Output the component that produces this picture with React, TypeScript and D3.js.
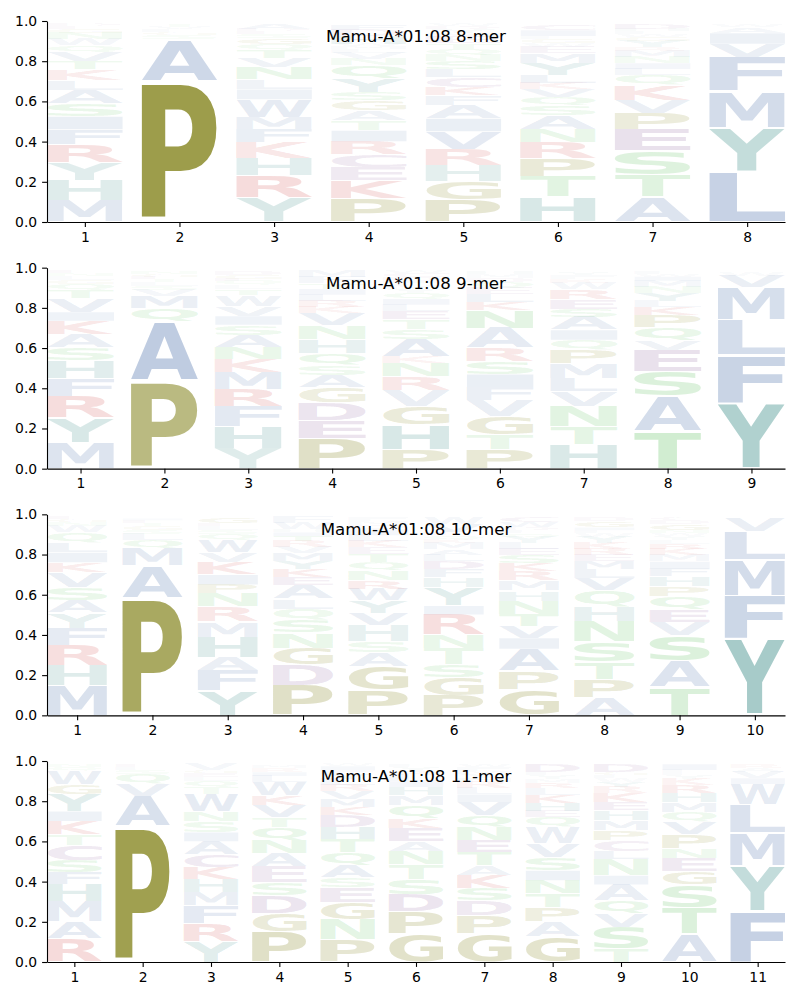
import { useEffect, useRef } from 'react';
import * as d3 from 'd3';

type Col = [string, number][];

// letter frequencies per position, stacked bottom -> top
const mer8: Col[] = [
  [['M', .105], ['H', .10], ['Y', .09], ['R', .09], ['F', .075], ['I', .065], ['S', .065], ['A', .065], ['L', .05], ['K', .055], ['T', .04], ['V', .045], ['Q', .035], ['W', .03], ['N', .03], ['G', .02], ['E', .015], ['D', .01]],
  [['P', .70], ['A', .21], ['S', .02], ['G', .015], ['L', .015], ['V', .01], ['T', .01]],
  [['Y', .12], ['R', .11], ['H', .085], ['K', .08], ['F', .065], ['M', .06], ['W', .09], ['I', .05], ['L', .05], ['N', .06], ['V', .045], ['T', .04], ['Q', .03], ['G', .03], ['S', .02], ['E', .015], ['D', .01], ['A', .025]],
  [['P', .115], ['K', .09], ['E', .065], ['C', .065], ['R', .065], ['I', .055], ['T', .05], ['A', .05], ['G', .05], ['S', .04], ['Y', .07], ['Q', .065], ['N', .03], ['V', .03], ['L', .02], ['M', .015], ['W', .01], ['H', .04], ['D', .03], ['F', .03]],
  [['P', .11], ['G', .09], ['H', .08], ['R', .08], ['V', .09], ['I', .065], ['A', .065], ['F', .05], ['K', .04], ['C', .05], ['L', .04], ['S', .04], ['N', .03], ['Q', .03], ['T', .03], ['E', .03], ['M', .02], ['Y', .02], ['D', .015], ['W', .01]],
  [['H', .125], ['T', .10], ['P', .09], ['R', .08], ['N', .065], ['A', .07], ['S', .05], ['Q', .04], ['V', .04], ['K', .03], ['L', .04], ['Y', .06], ['M', .05], ['E', .03], ['W', .02], ['G', .02], ['F', .015], ['I', .03], ['C', .03]],
  [['A', .125], ['T', .11], ['S', .12], ['E', .105], ['P', .08], ['V', .065], ['K', .075], ['Q', .05], ['L', .03], ['I', .03], ['N', .03], ['M', .03], ['R', .02], ['Y', .03], ['G', .02], ['W', .015], ['F', .015], ['H', .01], ['D', .025]],
  [['L', .25], ['Y', .22], ['M', .18], ['F', .17], ['V', .065], ['I', .055], ['A', .03], ['W', .015]],
];

const mer9: Col[] = [
  [['M', .13], ['Y', .125], ['R', .105], ['F', .09], ['H', .09], ['S', .065], ['A', .065], ['K', .065], ['I', .045], ['V', .07], ['T', .04], ['Q', .03], ['G', .02], ['L', .02], ['N', .015], ['E', .01]],
  [['P', .435], ['A', .30], ['Q', .065], ['M', .06], ['V', .03], ['S', .02], ['L', .02], ['T', .015], ['E', .01], ['G', .015], ['N', .015]],
  [['Y', .10], ['H', .11], ['F', .10], ['R', .085], ['M', .085], ['K', .065], ['N', .06], ['A', .06], ['S', .05], ['I', .045], ['V', .05], ['W', .055], ['T', .03], ['L', .02], ['Q', .02], ['E', .01], ['G', .02], ['D', .02]],
  [['P', .15], ['E', .09], ['D', .09], ['G', .075], ['A', .06], ['S', .05], ['Q', .06], ['H', .07], ['N', .07], ['V', .06], ['K', .03], ['R', .03], ['L', .03], ['I', .03], ['T', .03], ['F', .03], ['M', .03]],
  [['P', .095], ['H', .125], ['G', .09], ['V', .08], ['R', .07], ['N', .065], ['K', .03], ['A', .09], ['S', .05], ['T', .05], ['E', .04], ['L', .03], ['I', .03], ['Q', .03], ['Y', .02], ['M', .02], ['F', .02], ['D', .02], ['C', .02], ['W', .01]],
  [['P', .095], ['T', .075], ['G', .09], ['V', .08], ['F', .065], ['I', .065], ['S', .065], ['R', .065], ['A', .10], ['N', .09], ['K', .04], ['L', .04], ['E', .03], ['Q', .03], ['D', .02], ['M', .02], ['H', .015]],
  [['H', .12], ['T', .09], ['N', .10], ['V', .075], ['L', .065], ['M', .075], ['P', .065], ['Q', .05], ['I', .05], ['A', .065], ['S', .04], ['E', .05], ['R', .05], ['W', .03], ['K', .02], ['F', .02], ['Y', .015]],
  [['T', .185], ['A', .175], ['S', .125], ['E', .105], ['V', .05], ['Q', .065], ['P', .06], ['K', .04], ['L', .03], ['Y', .04], ['N', .03], ['M', .03], ['I', .02], ['W', .015], ['F', .015]],
  [['Y', .325], ['F', .24], ['L', .175], ['M', .16], ['V', .06], ['W', .02]],
];

const mer10: Col[] = [
  [['M', .15], ['H', .10], ['R', .10], ['F', .085], ['Y', .075], ['A', .06], ['S', .065], ['V', .075], ['K', .05], ['I', .05], ['L', .05], ['Q', .05], ['W', .03], ['N', .02], ['G', .015], ['E', .015]],
  [['P', .585], ['A', .16], ['M', .085], ['Q', .04], ['L', .03], ['S', .02], ['G', .02], ['T', .015], ['E', .015], ['I', .01]],
  [['Y', .125], ['F', .10], ['A', .065], ['H', .10], ['M', .075], ['R', .075], ['N', .065], ['P', .045], ['I', .05], ['K', .06], ['V', .05], ['W', .06], ['Q', .03], ['S', .02], ['L', .02], ['E', .015], ['G', .03]],
  [['P', .15], ['D', .10], ['G', .085], ['N', .075], ['S', .065], ['Q', .055], ['L', .05], ['A', .065], ['E', .04], ['K', .04], ['Y', .04], ['M', .04], ['V', .03], ['R', .03], ['T', .025], ['I', .02], ['H', .015], ['W', .03], ['F', .03]],
  [['P', .125], ['G', .12], ['A', .07], ['S', .055], ['H', .08], ['V', .06], ['Y', .06], ['W', .06], ['R', .04], ['N', .05], ['Q', .04], ['T', .04], ['E', .035], ['K', .03], ['L', .03], ['I', .03], ['D', .02], ['M', .02], ['F', .02]],
  [['P', .10], ['G', .09], ['S', .065], ['T', .08], ['N', .065], ['R', .10], ['I', .045], ['Y', .09], ['H', .05], ['F', .04], ['D', .04], ['L', .03], ['A', .03], ['M', .03], ['K', .02], ['Q', .02], ['E', .015], ['V', .04], ['W', .035]],
  [['G', .13], ['P', .09], ['A', .11], ['I', .055], ['V', .06], ['T', .06], ['N', .065], ['H', .05], ['M', .05], ['R', .045], ['K', .04], ['S', .04], ['E', .03], ['L', .03], ['Y', .03], ['Q', .02], ['F', .015], ['D', .015], ['W', .025], ['C', .025]],
  [['A', .09], ['P', .09], ['T', .085], ['S', .10], ['N', .10], ['H', .075], ['Q', .08], ['V', .06], ['L', .045], ['M', .04], ['E', .03], ['R', .03], ['K', .03], ['Y', .03], ['W', .02], ['F', .015], ['I', .015], ['G', .03], ['D', .02]],
  [['T', .14], ['A', .13], ['S', .13], ['V', .065], ['E', .06], ['Q', .065], ['P', .05], ['H', .05], ['F', .04], ['I', .035], ['M', .03], ['K', .03], ['R', .025], ['L', .02], ['Y', .02], ['W', .015], ['N', .015], ['G', .03], ['D', .02], ['C', .015]],
  [['Y', .38], ['F', .215], ['M', .18], ['L', .14], ['V', .065]],
];

const mer11: Col[] = [
  [['R', .115], ['A', .085], ['M', .10], ['H', .085], ['F', .06], ['S', .06], ['C', .075], ['T', .055], ['K', .065], ['I', .05], ['Y', .085], ['G', .05], ['W', .065], ['Q', .02], ['N', .015]],
  [['P', .675], ['A', .15], ['V', .06], ['Q', .05], ['S', .02], ['L', .015], ['E', .01]],
  [['Y', .10], ['R', .09], ['F', .09], ['M', .065], ['H', .065], ['K', .06], ['C', .065], ['A', .065], ['I', .045], ['S', .055], ['N', .05], ['W', .085], ['T', .035], ['Q', .03], ['L', .02], ['E', .02], ['G', .015], ['V', .03]],
  [['P', .15], ['G', .09], ['D', .09], ['S', .065], ['E', .08], ['A', .065], ['N', .065], ['Q', .065], ['T', .05], ['V', .06], ['K', .05], ['W', .065], ['L', .03], ['I', .02], ['R', .02], ['M', .015]],
  [['P', .11], ['N', .10], ['G', .085], ['E', .075], ['S', .05], ['A', .06], ['Q', .065], ['T', .065], ['H', .06], ['D', .06], ['K', .04], ['M', .04], ['V', .04], ['R', .03], ['L', .03], ['Y', .025], ['F', .02], ['I', .02], ['W', .01]],
  [['G', .14], ['P', .11], ['D', .085], ['S', .075], ['T', .075], ['N', .065], ['A', .05], ['E', .065], ['K', .05], ['Q', .065], ['M', .05], ['H', .04], ['I', .03], ['L', .03], ['R', .02], ['Y', .02], ['F', .015]],
  [['G', .14], ['P', .09], ['D', .075], ['S', .06], ['K', .065], ['A', .05], ['T', .065], ['E', .06], ['N', .065], ['Q', .06], ['V', .065], ['I', .04], ['L', .03], ['R', .03], ['H', .02], ['Y', .02], ['M', .015], ['F', .02], ['W', .015]],
  [['G', .125], ['A', .075], ['P', .07], ['T', .07], ['N', .065], ['I', .05], ['S', .065], ['V', .07], ['W', .08], ['Q', .05], ['E', .03], ['H', .04], ['K', .04], ['L', .035], ['R', .025], ['M', .02], ['Y', .02], ['F', .015], ['D', .04]],
  [['T', .065], ['S', .11], ['V', .065], ['Q', .065], ['A', .08], ['I', .045], ['N', .08], ['L', .04], ['C', .055], ['P', .05], ['M', .05], ['H', .05], ['E', .04], ['K', .045], ['R', .03], ['Y', .025], ['W', .02], ['F', .015], ['G', .015], ['D', .04]],
  [['A', .14], ['T', .13], ['S', .115], ['G', .065], ['E', .065], ['N', .05], ['P', .07], ['V', .06], ['Q', .05], ['M', .05], ['H', .045], ['R', .04], ['K', .03], ['Y', .02], ['L', .015], ['F', .01], ['I', .03]],
  [['F', .255], ['Y', .225], ['M', .165], ['L', .14], ['W', .10], ['I', .03], ['V', .03], ['A', .02], ['R', .02]],
];

const panels = [mer8, mer9, mer10, mer11];
const titles = ['Mamu-A*01:08 8-mer', 'Mamu-A*01:08 9-mer', 'Mamu-A*01:08 10-mer', 'Mamu-A*01:08 11-mer'];
const yTicks = [0, 0.2, 0.4, 0.6, 0.8, 1.0];

const olive = '#7f7f14';
const blue = '#6080b4';
const teal = '#489490';
const red = '#d04848';
const green = '#5cbf5c';
const purple = '#8a5a9a';
const palette: Record<string, string> = {
  P: olive, G: olive,
  A: blue, V: blue, L: blue, I: blue, M: blue, F: blue, W: blue,
  Y: teal, H: teal,
  R: red, K: red,
  S: green, T: green, N: green, Q: green,
  D: purple, E: purple, C: purple,
};

const FONT = "'DejaVu Sans', sans-serif";

const App = () => {
  const svgRef = useRef<SVGSVGElement>(null);

  useEffect(() => {
    const svg = d3.select(svgRef.current);
    svg.selectAll('*').remove();

    const width = 800;
    const marginLeft = 47;
    const marginRight = 15;
    const top0 = 21;
    const step = 246.67;
    const plotH = 201;

    // tight ink boxes of the glyphs
    const ctx = document.createElement('canvas').getContext('2d')!;
    ctx.font = `bold 100px ${FONT}`;
    const cache: Record<string, { l: number; a: number; w: number; h: number }> = {};
    const glyph = (ch: string) => {
      if (!cache[ch]) {
        const m = ctx.measureText(ch);
        cache[ch] = {
          l: m.actualBoundingBoxLeft,
          a: m.actualBoundingBoxAscent,
          w: m.actualBoundingBoxLeft + m.actualBoundingBoxRight,
          h: m.actualBoundingBoxAscent + m.actualBoundingBoxDescent,
        };
      }
      return cache[ch];
    };

    const alpha = d3.scalePow().exponent(0.75).domain([0, 1]).range([0, 1]);

    panels.forEach((cols, i) => {
      const top = top0 + i * step;
      const n = cols.length;
      const x = d3.scaleLinear().domain([0.6, n + 0.4]).range([marginLeft, width - marginRight]);
      const y = d3.scaleLinear().domain([0, 1]).range([top + plotH, top]);

      const g = svg.append('g');

      cols.forEach((col, j) => {
        let base = 0;
        col.forEach(([ch, v]) => {
          const m = glyph(ch);
          const x0 = x(j + 1 - 0.4);
          const x1 = x(j + 1 + 0.4);
          const yt = y(base + v * 0.975);
          const yb = y(base + v * 0.025);
          const sx = (x1 - x0) / m.w;
          const sy = (yb - yt) / m.h;
          g.append('text')
            .text(ch)
            .attr('font-family', FONT)
            .attr('font-weight', 'bold')
            .attr('font-size', 100)
            .attr('transform', `translate(${x0},${yt}) scale(${sx},${sy}) translate(${m.l},${m.a})`)
            .attr('fill', palette[ch])
            .attr('fill-opacity', alpha(v));
          base += v;
        });
      });

      const xAxis = g.append('g')
        .attr('transform', `translate(0,${top + plotH})`)
        .call(d3.axisBottom(x).tickValues(d3.range(1, n + 1)).tickFormat(d3.format('d'))
          .tickSize(4.9).tickSizeOuter(0).tickPadding(4.9));
      const yAxis = g.append('g')
        .attr('transform', `translate(${marginLeft},0)`)
        .call(d3.axisLeft(y).tickValues(yTicks).tickFormat(d3.format('.1f'))
          .tickSize(4.9).tickSizeOuter(0).tickPadding(4.9));

      [xAxis, yAxis].forEach(ax => {
        ax.attr('font-family', FONT).attr('font-size', 13.9);
        ax.selectAll('path, line').attr('stroke', '#000').attr('stroke-width', 1.1);
        ax.selectAll('text').attr('fill', '#000');
      });

      g.append('text')
        .attr('x', (marginLeft + width - marginRight) / 2)
        .attr('y', top + 21)
        .attr('text-anchor', 'middle')
        .attr('font-family', FONT)
        .attr('font-size', 16.67)
        .attr('fill', '#000')
        .text(titles[i]);
    });
  }, []);

  return <svg ref={svgRef} width={800} height={1000} style={{ position: 'absolute', left: 0, top: 0 }} />;
};

export default App;
